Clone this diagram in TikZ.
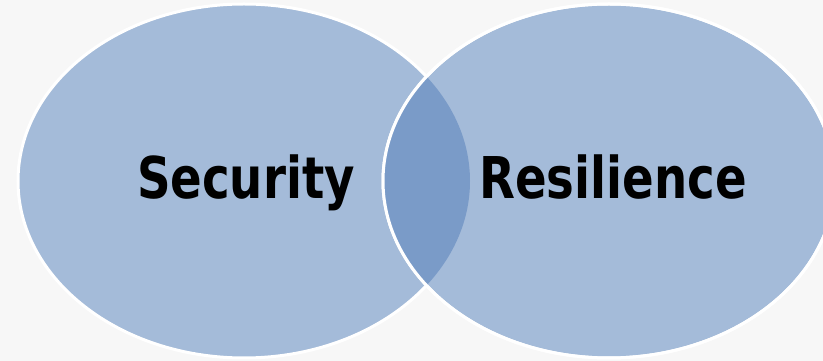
\documentclass[tikz,border=0pt]{standalone}
\usepackage{fontspec}
\newfontfamily\lblfont{DejaVu Sans Bold}[FakeStretch=0.81]
\usetikzlibrary{shapes.geometric}
\definecolor{bgcol}{HTML}{F7F7F7}
\definecolor{lightblue}{HTML}{A4BBD9}
\definecolor{darkblue}{HTML}{7A9BC8}
\tikzset{
  venn/.style={ellipse, fill=lightblue, draw=white, line width=3pt, minimum width=452pt, minimum height=354pt, inner sep=0pt},
  lbl/.style={font=\lblfont\fontsize{57.6}{60}\selectfont, text=black, inner sep=0pt, anchor=base}
}
\begin{document}
\begin{tikzpicture}[x=1pt,y=1pt]
\fill[bgcol] (0,0) rectangle (823,361);
\useasboundingbox (0,0) rectangle (823,361);
\node[venn] (L) at (244,180) {};
\node[venn] (R) at (609,180) {};
\begin{scope}
  \clip (244,180) ellipse [x radius=226pt, y radius=177pt];
  \fill[darkblue] (609,180) ellipse [x radius=226pt, y radius=177pt];
\end{scope}
\draw[white, line width=3pt] (609,180) ellipse [x radius=226pt, y radius=177pt];
\node[lbl] (sec) at (246,162) {Security};
\node[lbl] (res) at (613,162) {Resilience};
\end{tikzpicture}
\end{document}
